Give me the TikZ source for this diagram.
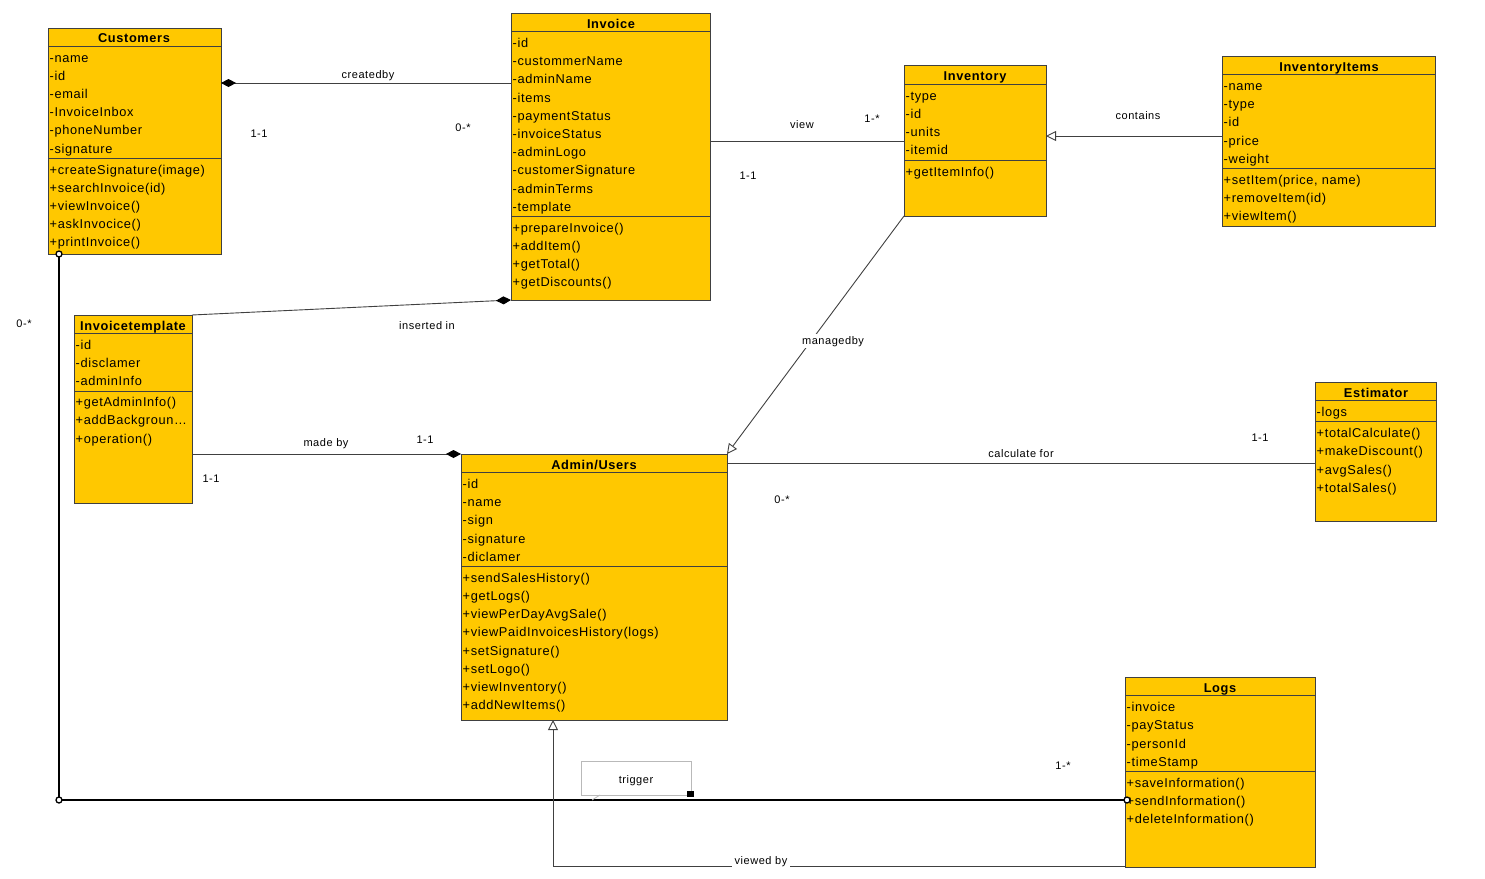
\documentclass[tikz,border=0pt]{standalone}
\usepackage{fontspec}
\setmainfont{Liberation Sans}
\newfontfamily\rowf[LetterSpace=5]{Liberation Sans}
\usetikzlibrary{arrows.meta}
\definecolor{umlfill}{RGB}{255,200,0}
\definecolor{umlline}{RGB}{64,64,64}
\definecolor{notegray}{RGB}{185,185,185}
\newcommand\rowsat[5]{%
  \foreach \t [count=\i from 0] in {#5} {\node[row] (#1\i) at (#2, #3+1.5+\i*#4) {\t};}}
\begin{document}
\begin{tikzpicture}[x=1pt,y=-1pt,
  box/.style={draw=umlline, fill=umlfill, line width=1pt, anchor=north west, inner sep=0, outer sep=0},
  ttl/.style={font=\rowf\fontsize{12.8}{14}\selectfont\bfseries, inner sep=0, text height=9pt, text depth=3pt, yshift=-1.5pt},
  row/.style={font=\rowf\fontsize{12.8}{14}\selectfont, anchor=west, inner sep=0, text height=9pt, text depth=3pt},
  lbl/.style={font=\rowf\fontsize{11}{13}\selectfont, inner sep=1pt, text height=8pt, text depth=2pt},
  sepl/.style={draw=umlline, line width=1pt},
  edge/.style={draw=umlline, line width=0.9pt},
  comp/.style={edge, {Diamond[length=15pt,width=8pt,fill=black,color=black]}-},
  gen/.style={edge, -{Triangle[open,length=10pt,width=10pt,fill=white]}},
  thick/.style={draw=black, line width=2pt},
  ring/.style={draw=black, line width=1.3pt, fill=white}]
\useasboundingbox (0,0) rectangle (1485,878);

% ---------- Customers
\node[box, minimum width=173, minimum height=226] (cust) at (48,28) {};
\node[ttl] (custT) at (134,38) {Customers};
\draw[sepl] (cust.west |- 0,46) -- (cust.east |- 0,46);
\draw[sepl] (cust.west |- 0,158) -- (cust.east |- 0,158);
\rowsat{ca}{49.5}{58}{18.1}{-name,-id,-email,-InvoiceInbox,-phoneNumber,-signature}
\rowsat{cm}{49.5}{170}{18.1}{+createSignature(image),+searchInvoice(id),+viewInvoice(),+askInvocice(),+printInvoice()}

% ---------- Invoice
\node[box, minimum width=199, minimum height=287] (inv) at (511,13) {};
\node[ttl] (invT) at (611,24) {Invoice};
\draw[sepl] (inv.west |- 0,31) -- (inv.east |- 0,31);
\draw[sepl] (inv.west |- 0,216) -- (inv.east |- 0,216);
\rowsat{ia}{512.5}{43}{18.2}{-id,-custommerName,-adminName,-items,-paymentStatus,-invoiceStatus,-adminLogo,-customerSignature,-adminTerms,-template}
\rowsat{im}{512.5}{228}{18.1}{+prepareInvoice(),+addItem(),+getTotal(),+getDiscounts()}

% ---------- Inventory
\node[box, minimum width=142, minimum height=151] (invt) at (904,65) {};
\node[ttl] (invtT) at (975,76) {Inventory};
\draw[sepl] (invt.west |- 0,84) -- (invt.east |- 0,84);
\draw[sepl] (invt.west |- 0,160) -- (invt.east |- 0,160);
\rowsat{va}{905.5}{96}{18.1}{-type,-id,-units,-itemid}
\rowsat{vm}{905.5}{172}{18.1}{+getItemInfo()}

% ---------- InventoryItems
\node[box, minimum width=213, minimum height=170] (items) at (1222,56) {};
\node[ttl] (itemsT) at (1329,67) {InventoryItems};
\draw[sepl] (items.west |- 0,74) -- (items.east |- 0,74);
\draw[sepl] (items.west |- 0,168) -- (items.east |- 0,168);
\rowsat{ta}{1223.5}{86}{18.2}{-name,-type,-id,-price,-weight}
\rowsat{tm}{1223.5}{180}{18.1}{{+setItem(price, name)},+removeItem(id),+viewItem()}

% ---------- Invoicetemplate
\node[box, minimum width=118, minimum height=188] (tmpl) at (74,315) {};
\node[ttl] (tmplT) at (133,326) {Invoicetemplate};
\draw[sepl] (tmpl.west |- 0,333) -- (tmpl.east |- 0,333);
\draw[sepl] (tmpl.west |- 0,391) -- (tmpl.east |- 0,391);
\rowsat{pa}{75.5}{345}{18.1}{-id,-disclamer,-adminInfo}
\rowsat{pm}{75.5}{402}{18.4}{+getAdminInfo(),+addBackgroun…,+operation()}

% ---------- Admin/Users
\node[box, minimum width=266, minimum height=266] (admin) at (461,454) {};
\node[ttl] (adminT) at (594,465) {Admin/Users};
\draw[sepl] (admin.west |- 0,472) -- (admin.east |- 0,472);
\draw[sepl] (admin.west |- 0,566) -- (admin.east |- 0,566);
\rowsat{aa}{462.5}{484}{18.2}{-id,-name,-sign,-signature,-diclamer}
\rowsat{am}{462.5}{578}{18.15}{+sendSalesHistory(),+getLogs(),+viewPerDayAvgSale(),+viewPaidInvoicesHistory(logs),+setSignature(),+setLogo(),+viewInventory(),+addNewItems()}

% ---------- Estimator
\node[box, minimum width=121, minimum height=139] (est) at (1315,382) {};
\node[ttl] (estT) at (1376,393) {Estimator};
\draw[sepl] (est.west |- 0,400) -- (est.east |- 0,400);
\draw[sepl] (est.west |- 0,421) -- (est.east |- 0,421);
\rowsat{ea}{1316.5}{412}{18.1}{-logs}
\rowsat{em}{1316.5}{433}{18.3}{+totalCalculate(),+makeDiscount(),+avgSales(),+totalSales()}

% ---------- Logs
\node[box, minimum width=190, minimum height=190] (logs) at (1125,677) {};
\node[ttl] (logsT) at (1220,688) {Logs};
\draw[sepl] (logs.west |- 0,695) -- (logs.east |- 0,695);
\draw[sepl] (logs.west |- 0,771) -- (logs.east |- 0,771);
\rowsat{la}{1126.5}{707}{18.3}{-invoice,-payStatus,-personId,-timeStamp}
\rowsat{lm}{1126.5}{783}{18.1}{+saveInformation(),+sendInformation(),+deleteInformation()}

% ---------- connectors
\draw[comp] (cust.east |- 0,83) -- (inv.west |- 0,83);
\node[lbl] (l1) at (368,75) {createdby};
\node[lbl] (l2) at (259,134) {1-1};
\node[lbl] (l3) at (463,128) {0-*};

\draw[edge] (inv.east |- 0,141) -- (invt.west |- 0,141);
\node[lbl] (l4) at (802,125) {view};
\node[lbl] (l5) at (872,119) {1-*};
\node[lbl] (l6) at (748,176) {1-1};

\draw[gen] (items.west |- 0,136) -- (invt.east |- 0,136);
\node[lbl] (l7) at (1138,116) {contains};

\draw[comp] (inv.south west) -- (tmpl.north east);
\node[lbl] (l8) at (427,326) {inserted in};

\draw[gen] (invt.south west) -- (admin.north east);
\node[lbl, fill=white, inner sep=2pt] (l9) at (833,341) {managedby};

\draw[comp] (admin.north west) -- (tmpl.east |- admin.north west);
\node[lbl] (l10) at (326,443) {made by};
\node[lbl] (l11) at (425,440) {1-1};
\node[lbl] (l12) at (211,479) {1-1};

\draw[edge] (admin.east |- 0,463) -- (est.west |- 0,463);
\node[lbl] (l13) at (1021,454) {calculate for};
\node[lbl] (l14) at (1260,438) {1-1};
\node[lbl] (l15) at (782,500) {0-*};

% thick trigger line
\coordinate (corner) at (59,800);
\draw[thick] ([xshift=11pt]cust.south west) -- (corner) -- (logs.west |- corner);
\draw[ring] ([xshift=11pt]cust.south west) circle (3);
\draw[ring] (corner) circle (3);
\draw[ring] ([xshift=2pt]logs.west |- corner) circle (3);
\node[lbl] (l16) at (24,324) {0-*};
\node[lbl] (l17) at (1063,766) {1-*};

% note
\node[draw=notegray, fill=white, line width=0.8pt, minimum width=110, minimum height=34, anchor=north west, inner sep=0] (note) at (581,761) {};
\node[lbl] (noteT) at (636,780) {trigger};
\fill[black] (687,791) rectangle (694,797);
\draw[notegray, line width=0.8pt] (600,795) -- (592,800);

% viewed by
\draw[gen] (logs.west |- 0,866) -| ([xshift=92pt]admin.south west);
\node[lbl, fill=white, inner sep=3pt] (l18) at (761,861) {viewed by};
\end{tikzpicture}
\end{document}
